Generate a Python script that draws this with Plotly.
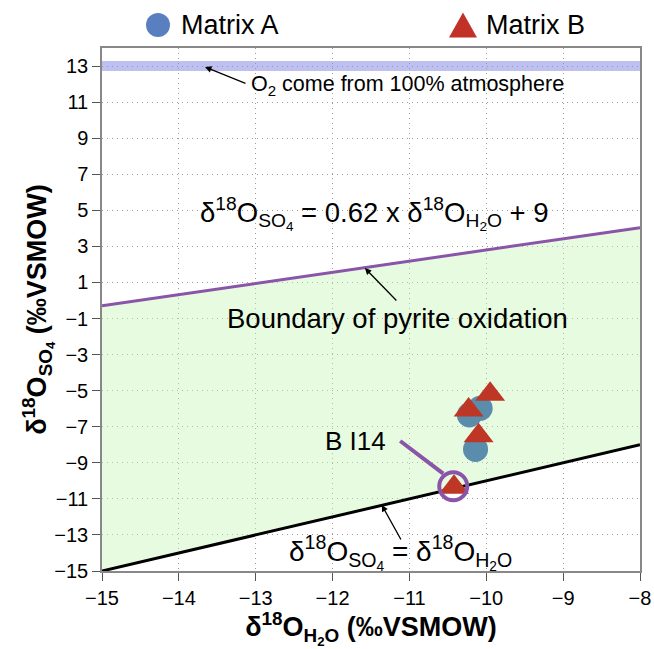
import plotly.graph_objects as go

# ---- data ----
matrix_a_x = [-10.08, -10.22, -10.14]
matrix_a_y = [-5.98, -6.35, -8.26]
matrix_b_x = [-9.95, -10.23, -10.10, -10.42]
matrix_b_y = [-5.2, -6.07, -7.5, -10.35]
bi14_x = [-10.43]
bi14_y = [-10.3]

line_x = [-15, -8]
pyrite_slope = 0.62
pyrite_intercept = 9
eq_line_y = [x for x in line_x]                                   # d18O_SO4 = d18O_H2O
pyrite_line_y = [pyrite_slope * x + pyrite_intercept for x in line_x]

atm_value = 13
x_ticks = [-15, -14, -13, -12, -11, -10, -9, -8]
y_ticks = list(range(13, -16, -2))

FONT = "Liberation Sans, Arial, Helvetica, sans-serif"
PURPLE = "#8a55a8"

SO4 = "<sub>SO<sub>4</sub></sub>"
H2O = "<sub>H<sub>2</sub>O</sub>"
D18 = "δ<sup>18</sup>O"

fig = go.Figure()

fig.add_trace(go.Scatter(x=line_x, y=eq_line_y, mode="lines",
                         line=dict(color="black", width=3), showlegend=False,
                         hoverinfo="skip"))
fig.add_trace(go.Scatter(x=line_x, y=pyrite_line_y, mode="lines",
                         line=dict(color=PURPLE, width=3), fill="tonexty",
                         fillcolor="rgba(195,245,180,0.42)", showlegend=False,
                         hoverinfo="skip"))
fig.add_trace(go.Scatter(x=matrix_a_x, y=matrix_a_y, mode="markers", name="Matrix A",
                         marker=dict(symbol="circle", size=25, color="#5a8dab"),
                         showlegend=False))
fig.add_trace(go.Scatter(x=matrix_b_x, y=matrix_b_y, mode="markers", name="Matrix B",
                         marker=dict(symbol="triangle-up", size=26, color="#bd3626"),
                         showlegend=False))
fig.add_trace(go.Scatter(x=bi14_x, y=bi14_y, mode="markers", name="B I14",
                         marker=dict(symbol="circle-open", size=28,
                                     line=dict(color=PURPLE, width=4), color=PURPLE),
                         showlegend=False))

# atmospheric O2 band
fig.add_shape(type="rect", xref="paper", x0=0, x1=1, yref="y",
              y0=atm_value - 0.28, y1=atm_value + 0.28,
              fillcolor="rgb(190,192,242)", line=dict(width=0), layer="below")

# B I14 pointer line
fig.add_shape(type="line", xref="x", yref="y", x0=-11.12, y0=-7.79, x1=-10.56, y1=-9.6,
              line=dict(color=PURPLE, width=4))

# manual legend
fig.add_shape(type="circle", xref="paper", yref="paper",
              x0=0.0818, x1=0.1264, y0=1.021, y1=1.067,
              fillcolor="#5a7fc0", line=dict(width=0))
fig.add_shape(type="path", xref="paper", yref="paper",
              path="M 0.645,1.020 L 0.697,1.020 L 0.671,1.068 Z",
              fillcolor="#c23128", line=dict(width=0))

ann = []
ann.append(dict(xref="paper", yref="paper", x=0.143, y=1.044, xanchor="left", yanchor="middle",
                text="Matrix A", showarrow=False, font=dict(size=27, color="black", family=FONT)))
ann.append(dict(xref="paper", yref="paper", x=0.710, y=1.044, xanchor="left", yanchor="middle",
                text="Matrix B", showarrow=False, font=dict(size=27, color="black", family=FONT)))
# O2 annotation
ann.append(dict(x=-13.66, y=12.95, ax=42, ay=17, text="", showarrow=True,
                arrowhead=2, arrowsize=1, arrowwidth=1.3, arrowcolor="black"))
ann.append(dict(x=-11.03, y=11.9, text="O<sub>2</sub> come from 100% atmosphere",
                showarrow=False, font=dict(size=21.5, color="black", family=FONT)))
# pyrite equation
ann.append(dict(x=-11.45, y=4.85,
                text=D18 + SO4 + " = 0.62 x " + D18 + H2O + " + 9",
                showarrow=False, font=dict(size=27.5, color="black", family=FONT)))
# boundary label
ann.append(dict(x=-11.58, y=1.80, ax=33, ay=34, text="", showarrow=True,
                arrowhead=2, arrowsize=1, arrowwidth=1.3, arrowcolor="black"))
ann.append(dict(x=-11.16, y=-1.0, text="Boundary of pyrite oxidation",
                showarrow=False, font=dict(size=27.5, color="black", family=FONT)))
# 1:1 line label
ann.append(dict(x=-11.36, y=-11.34, ax=20, ay=36, text="", showarrow=True,
                arrowhead=2, arrowsize=1, arrowwidth=1.3, arrowcolor="black"))
ann.append(dict(x=-11.12, y=-14.0,
                text=D18 + SO4 + " = " + D18 + H2O,
                showarrow=False, font=dict(size=28, color="black", family=FONT)))
# B I14 label
ann.append(dict(x=-11.70, y=-7.79, text="B I14", showarrow=False,
                font=dict(size=26, color="black", family=FONT)))

fig.update_layout(
    width=654, height=649,
    margin=dict(l=102, r=14, t=48, b=78, autoexpand=False),
    paper_bgcolor="white", plot_bgcolor="white",
    font=dict(family=FONT, size=20, color="black"),
    annotations=ann,
    showlegend=False,
)
axis_common = dict(ticks="outside", ticklen=8, tickcolor="#555", tickwidth=1,
                   showline=True, mirror=True, linecolor="#888", linewidth=1.5,
                   showgrid=True, gridcolor="#9a9a9a", griddash="1px,4px", gridwidth=1.3,
                   zeroline=False, tickfont=dict(size=20, family=FONT))
fig.update_xaxes(range=[-15, -8], tickvals=x_ticks, **axis_common,
                 title=dict(text="<b>" + D18 + H2O + " (‰VSMOW)</b>",
                            font=dict(size=27, family=FONT), standoff=11))
fig.update_yaxes(range=[-15, 14], tickvals=y_ticks, **axis_common,
                 title=dict(text="<b>" + D18 + SO4 + " (‰VSMOW)</b>",
                            font=dict(size=27, family=FONT), standoff=0))

fig.write_html("out.html")
